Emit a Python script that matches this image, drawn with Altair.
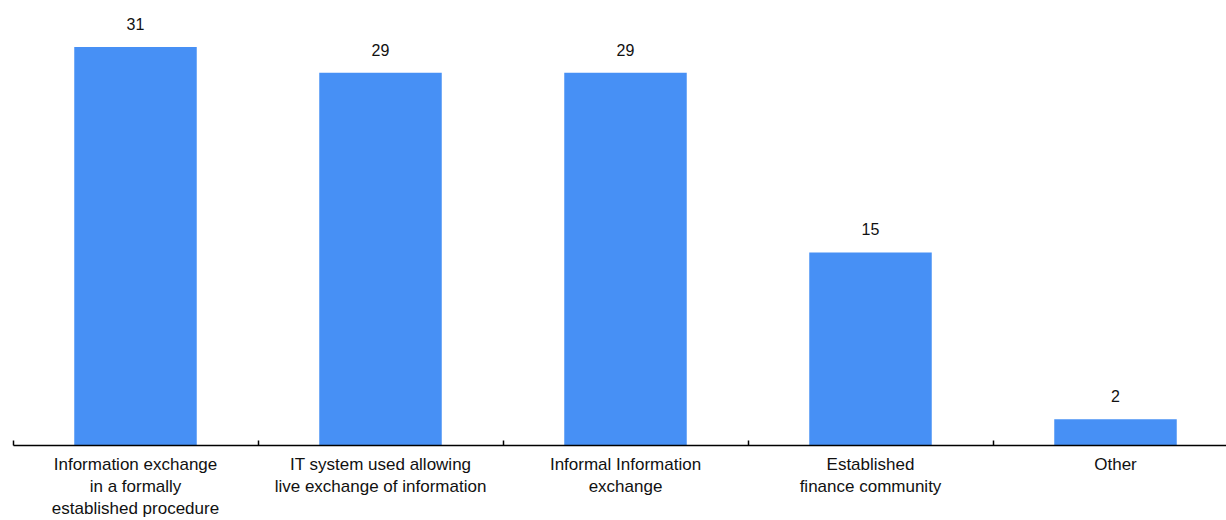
import altair as alt
import pandas as pd

categories = [
    "Information exchange\nin a formally\nestablished procedure",
    "IT system used allowing\nlive exchange of information",
    "Informal Information\nexchange",
    "Established\nfinance community",
    "Other",
]
values = [31, 29, 29, 15, 2]

df = pd.DataFrame({"cat": categories, "val": values})

FONT = "Liberation Sans Narrow, Arial Narrow, Liberation Sans, Arial, sans-serif"
BAR = "#4790F5"

xscale = alt.Scale(range=[0, 1225], paddingInner=0.5, paddingOuter=0.25)
yscale = alt.Scale(domain=[0, 31], nice=False, zero=True)

base = alt.Chart(df)

bars = base.mark_bar(color=BAR).encode(
    x=alt.X(
        "cat:N",
        sort=categories,
        scale=xscale,
        axis=alt.Axis(
            orient="bottom",
            title=None,
            ticks=False,
            domain=True,
            domainColor="#000000",
            domainWidth=1.5,
            labelAngle=0,
            labelExpr="split(datum.value, '\\n')",
            labelFont=FONT,
            labelFontSize=17,
            labelColor="#111111",
            labelLineHeight=22,
            labelPadding=11,
            labelBaseline="top",
            labelLimit=0,
            zindex=1,
        ),
    ),
    y=alt.Y("val:Q", scale=yscale, axis=None),
)

text = base.mark_text(
    dy=-17, baseline="alphabetic", fontSize=16, font=FONT, color="#111111"
).encode(
    x=alt.X(
        "cat:N",
        sort=categories,
        scale=xscale,
        axis=alt.Axis(
            orient="bottom",
            title=None,
            offset=-5,
            domain=False,
            labels=False,
            ticks=True,
            tickSize=5,
            tickWidth=1.5,
            tickColor="#000000",
            bandPosition=0,
            tickOffset=-61.25,
            grid=False,
            zindex=1,
        ),
    ),
    y=alt.Y("val:Q", scale=yscale, axis=None),
    text=alt.Text("val:Q"),
)

chart = (
    alt.layer(bars, text)
    .resolve_axis(x="independent")
    .properties(
        width=1213,
        height=398,
        padding={"left": 13, "top": 47, "right": 0, "bottom": 75},
        autosize=alt.AutoSizeParams(type="none"),
        background="#ffffff",
    )
    .configure_view(stroke=None)
)

chart.save("out.html", embed_options={"renderer": "svg", "actions": False})
